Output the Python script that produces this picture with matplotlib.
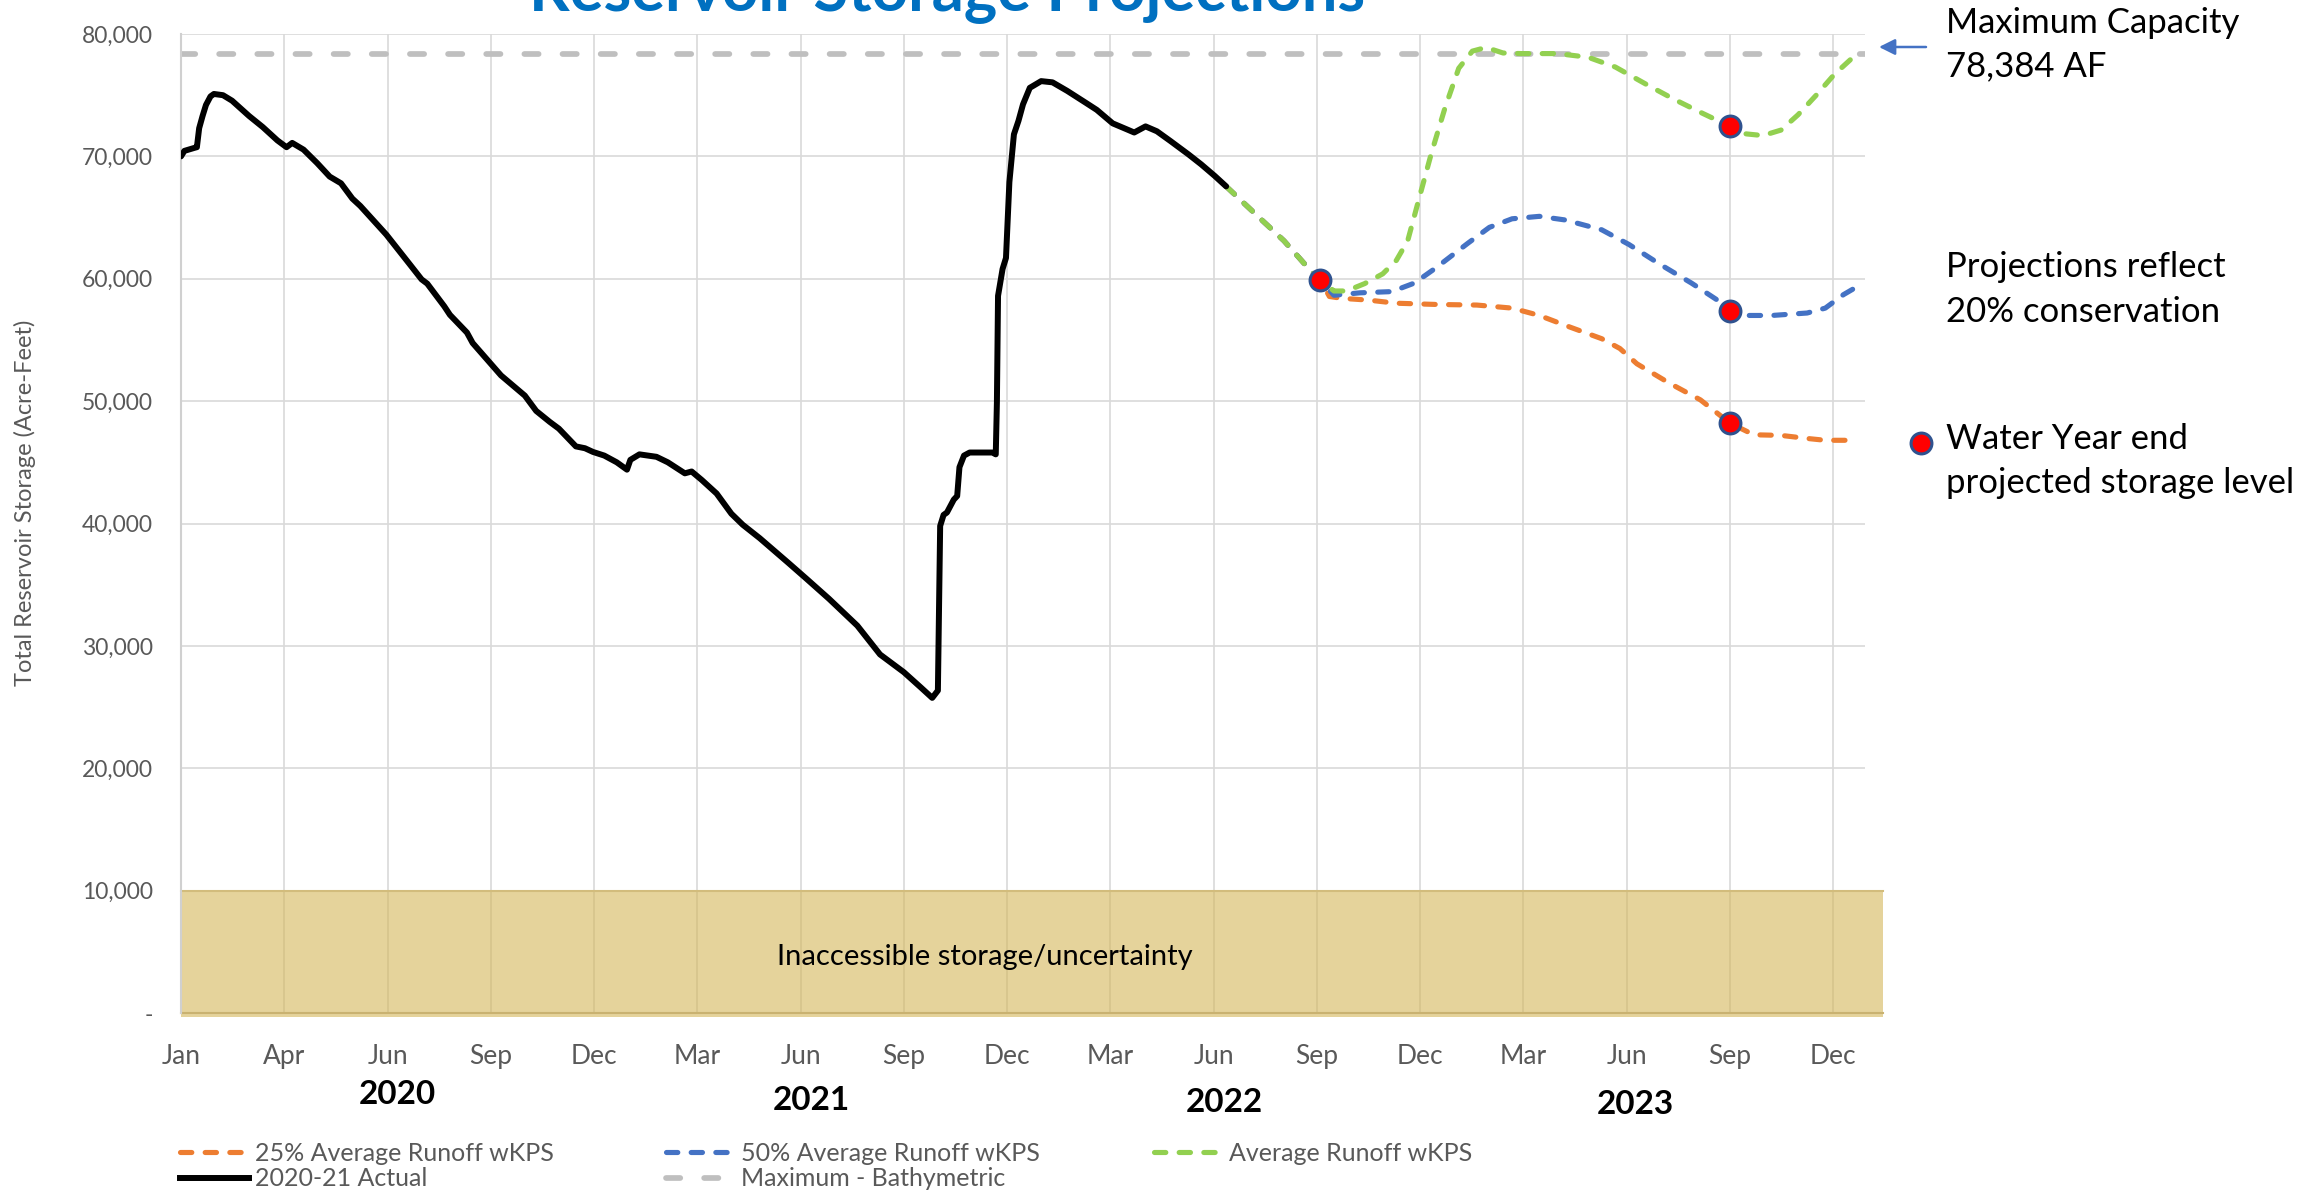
import matplotlib
matplotlib.use("Agg")
import matplotlib.pyplot as plt
from matplotlib.lines import Line2D

plt.rcParams['font.family'] = ['Lato', 'DejaVu Sans']

# ---------------- data ----------------
tick_days = [0, 91, 182, 273, 364, 455, 546, 637, 728, 819, 910, 1001, 1092, 1183, 1274, 1365, 1456]
tick_labels = ['Jan', 'Apr', 'Jun', 'Sep', 'Dec', 'Mar', 'Jun', 'Sep', 'Dec',
               'Mar', 'Jun', 'Sep', 'Dec', 'Mar', 'Jun', 'Sep', 'Dec']
year_labels = ['2020', '2021', '2022', '2023']
y_ticks = [0, 10000, 20000, 30000, 40000, 50000, 60000, 70000, 80000]
y_tick_labels = ['-', '10,000', '20,000', '30,000', '40,000', '50,000', '60,000', '70,000', '80,000']

actual_days = [0, 3, 12, 14, 16, 19, 22, 26, 29, 37, 45, 60, 72, 85, 93, 98, 108, 120, 131, 141,
               151, 158, 181, 201, 212, 217, 232, 237, 252, 257, 282, 303, 313, 325, 333, 348,
               356, 363, 373, 384, 393, 396, 404, 419, 429, 444, 450, 459, 472, 485, 495, 510,
               535, 551, 571, 596, 616, 637, 652, 662, 667, 669, 672, 675, 681, 684, 686, 690,
               695, 715, 718, 719, 720, 724, 727, 730, 734, 738, 742, 748, 758, 768, 781, 797,
               807, 821, 835, 840, 850, 860, 872, 888, 899, 911, 921]
actual_values = [70000, 70450, 70700, 70750, 72300, 73300, 74200, 74900, 75100, 75000, 74550,
                 73300, 72400, 71300, 70750, 71100, 70550, 69450, 68350, 67800, 66550, 65950,
                 63600, 61250, 59950, 59600, 57750, 57050, 55600, 54750, 52100, 50450, 49200,
                 48300, 47750, 46300, 46150, 45850, 45550, 45000, 44400, 45200, 45650, 45450,
                 45000, 44100, 44250, 43550, 42450, 40800, 39900, 38800, 36800, 35500, 33850,
                 31650, 29300, 27850, 26600, 25750, 26350, 39800, 40700, 40900, 41950, 42250,
                 44600, 45550, 45800, 45800, 45650, 49900, 58600, 60800, 61700, 67900, 71800,
                 72900, 74250, 75600, 76150, 76050, 75350, 74400, 73800, 72700, 72150, 71950,
                 72450, 72050, 71250, 70150, 69350, 68400, 67550]

avg_days = [921, 949, 972, 996, 1004, 1016, 1027, 1043, 1059, 1071, 1081, 1090, 1102, 1114, 1126,
            1138, 1150, 1165, 1181, 1213, 1240, 1264, 1291, 1315, 1339, 1365, 1378, 1394, 1410,
            1425, 1441, 1457, 1477]
avg_values = [67550, 65100, 63100, 60600, 59900, 59000, 59000, 59600, 60400, 61500, 63100, 66200,
              70300, 74000, 77200, 78600, 78900, 78450, 78400, 78400, 78100, 77300, 75900, 74700,
              73600, 72450, 71850, 71700, 72150, 73400, 75000, 76700, 78400]

p50_days = [921, 949, 972, 996, 1004, 1016, 1039, 1067, 1087, 1106, 1134, 1153, 1173, 1197, 1220,
            1252, 1276, 1303, 1331, 1354, 1365, 1378, 1402, 1433, 1449, 1465, 1477]
p50_values = [67550, 65100, 63100, 60600, 59900, 58650, 58850, 58950, 59650, 60900, 62900, 64200,
              64900, 65100, 64800, 64000, 62800, 61200, 59650, 58250, 57350, 57000, 57000, 57200,
              57600, 58700, 59350]

p25_days = [921, 949, 972, 996, 1004, 1012, 1023, 1047, 1071, 1106, 1142, 1173, 1197, 1224, 1252,
            1268, 1283, 1311, 1339, 1365, 1386, 1410, 1433, 1449, 1475]
p25_values = [67550, 65100, 63100, 60600, 59900, 58550, 58400, 58250, 58000, 57900, 57850, 57600,
              57000, 56050, 55100, 54300, 53050, 51500, 50100, 48200, 47250, 47200, 46950, 46800,
              46800]

wy_end_days = [1004, 1365, 1365, 1365]
wy_end_values = [59900, 72450, 57350, 48200]

max_capacity = 78384
inaccessible_top = 10000

# ---------------- layout helpers ----------------
W, H = 2305, 1192
fig = plt.figure(figsize=(W / 100, H / 100), dpi=100)


def fx(px):
    return px / W


def fy(py):
    return 1 - py / H


ax = fig.add_axes([fx(181), fy(1013), fx(1865) - fx(181), (1013 - 34) / H])
ax.set_xlim(0, 1484)
ax.set_ylim(0, 80000)

GRID = '#D9D9D9'
TXT = '#595959'
ORANGE = '#ED7D31'
BLUE = '#4472C4'
GREEN = '#92D050'

ax.set_xticks(tick_days)
ax.set_xticklabels(tick_labels, fontsize=19, color=TXT)
ax.set_yticks(y_ticks)
ax.set_yticklabels(y_tick_labels, fontsize=16.5, color=TXT)
ax.tick_params(axis='x', length=0, pad=22)
ax.tick_params(axis='y', length=0, pad=20)
ax.grid(True, color=GRID, lw=1.2)
ax.set_axisbelow(True)
for s in ['top', 'right', 'bottom']:
    ax.spines[s].set_visible(False)
ax.spines['left'].set_color('#D0D0D0')
ax.spines['left'].set_linewidth(1.5)

# inaccessible band (semi-transparent so gridlines show through darker)
band_c = (212 / 255, 182 / 255, 88 / 255)
ax.fill_between([0, 1500], 0, inaccessible_top, color=band_c, alpha=0.6, lw=0,
                clip_on=False, zorder=1)
ax.fill_between([0, 1500], -330, 0, color=band_c, alpha=0.6, lw=0, clip_on=False, zorder=1)
ax.plot([0, 1500], [inaccessible_top, inaccessible_top], color='#D2BC7C', lw=1.5,
        clip_on=False, zorder=1.5)
ax.plot([0, 1500], [0, 0], color='#C9B271', lw=1.5, clip_on=False, zorder=1.5)
ax.text(708, 4575, 'Inaccessible storage/uncertainty', ha='center', va='center',
        fontsize=21, color='black', zorder=3)

# max capacity
ax.plot([0, 1484], [max_capacity, max_capacity], color='#BFBFBF', lw=4.1,
        linestyle=(0, (2.5, 4.2)), dash_capstyle='round', zorder=2)

# projections
proj_kw = dict(lw=3.7, linestyle=(0, (2.2, 2.6)), dash_capstyle='round', zorder=3)
ax.plot(p25_days, p25_values, color=ORANGE, **proj_kw)
ax.plot(p50_days, p50_values, color=BLUE, **proj_kw)
ax.plot(avg_days, avg_values, color=GREEN, **proj_kw)

# actual
ax.plot(actual_days, actual_values, color='black', lw=4.3, solid_joinstyle='round',
        solid_capstyle='round', zorder=4)

# water year end dots
ax.plot(wy_end_days, wy_end_values, linestyle='none', marker='o', ms=15, mfc='#FF0000',
        mec='#2F528F', mew=2.2, zorder=5)

# title (cropped at top edge, as in the reference)
fig.text(fx(947), fy(10), 'Reservoir Storage Projections', ha='center', va='baseline',
         fontsize=45.5, fontweight='bold', color='#0070C0')

# y label
fig.text(fx(25), fy(503), 'Total Reservoir Storage (Acre-Feet)', rotation=90,
         ha='center', va='center', fontsize=17, color=TXT)

# year labels
for lab, px, py in zip(year_labels, [397, 811, 1224, 1635], [1095, 1100, 1102, 1104]):
    fig.text(fx(px), fy(py), lab, ha='center', va='center', fontsize=24,
             fontweight='bold', color='black')

# right annotations
ann_kw = dict(ha='left', va='baseline', fontsize=25, color='black')
fig.text(fx(1946), fy(33), 'Maximum Capacity', **ann_kw)
fig.text(fx(1946), fy(76), '78,384 AF', **ann_kw)
fig.text(fx(1946), fy(277), 'Projections reflect', **ann_kw)
fig.text(fx(1946), fy(322), '20% conservation', **ann_kw)
fig.text(fx(1946), fy(449), 'Water Year end', **ann_kw)
fig.text(fx(1946), fy(493), 'projected storage level', **ann_kw)
ax.annotate('', xy=(fx(1879), fy(47)), xytext=(fx(1926), fy(47)),
            xycoords='figure fraction', textcoords='figure fraction',
            arrowprops=dict(arrowstyle='-|>', color=BLUE, lw=1.8, mutation_scale=24,
                            shrinkA=0, shrinkB=0))
fig.add_artist(Line2D([fx(1921)], [fy(443)], marker='o', ms=15, mfc='#FF0000',
                      mec='#2F528F', mew=2.2, linestyle='none', transform=fig.transFigure))

# legend (three columns)
h25 = Line2D([], [], color=ORANGE, **proj_kw)
h50 = Line2D([], [], color=BLUE, **proj_kw)
havg = Line2D([], [], color=GREEN, **proj_kw)
hact = Line2D([], [], color='black', lw=4.3)
hmax = Line2D([], [], color='#BFBFBF', lw=4.1, linestyle=(0, (2.5, 4.2)), dash_capstyle='round')
leg_kw = dict(loc='upper left', frameon=False, fontsize=18, handlelength=2.75,
              handletextpad=0.25, labelspacing=0.09, borderpad=0, borderaxespad=0,
              labelcolor=TXT)
fig.legend([h25, hact], ['25% Average Runoff wKPS', '2020-21 Actual'],
           bbox_to_anchor=(fx(180), fy(1142)), **leg_kw)
fig.legend([h50, hmax], ['50% Average Runoff wKPS', 'Maximum - Bathymetric'],
           bbox_to_anchor=(fx(666), fy(1142)), **leg_kw)
fig.legend([havg], ['Average Runoff wKPS'],
           bbox_to_anchor=(fx(1154), fy(1142)), **leg_kw)

fig.savefig('out.png', dpi=100)
